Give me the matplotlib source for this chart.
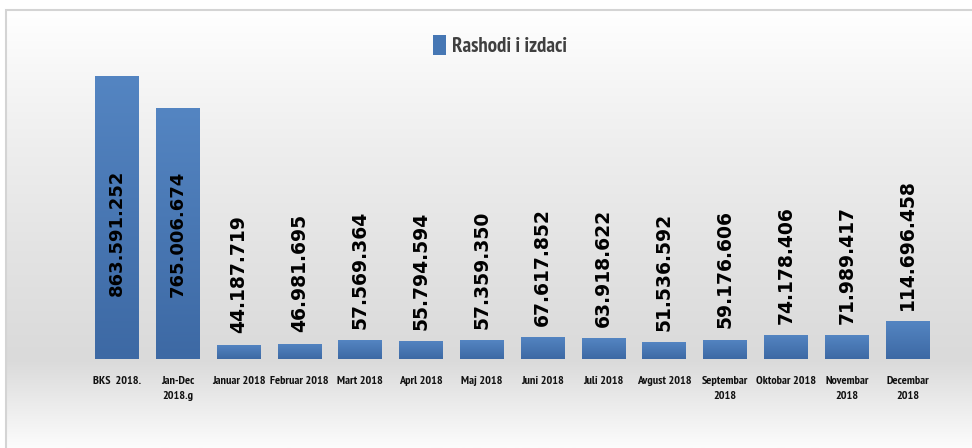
import numpy as np
import matplotlib
matplotlib.use('Agg')
import matplotlib.pyplot as plt
from matplotlib import font_manager
from matplotlib.colors import LinearSegmentedColormap
from matplotlib.patches import Rectangle, Patch

# Data
categories = ['BKS  2018.', 'Jan-Dec\n2018.g', 'Januar 2018', 'Februar 2018', 'Mart 2018',
              'Aprl 2018', 'Maj 2018', 'Juni 2018', 'Juli 2018', 'Avgust 2018',
              'Septembar\n2018', 'Oktobar 2018', 'Novembar\n2018', 'Decembar\n2018']
values = [863591252, 765006674, 44187719, 46981695, 57569364, 55794594, 57359350,
          67617852, 63918622, 51536592, 59176606, 74178406, 71989417, 114696458]
value_labels = ['863.591.252', '765.006.674', '44.187.719', '46.981.695', '57.569.364',
                '55.794.594', '57.359.350', '67.617.852', '63.918.622', '51.536.592',
                '59.176.606', '74.178.406', '71.989.417', '114.696.458']
series_name = 'Rashodi i izdaci'

# look for a narrow bold font
names = {}
for f in font_manager.fontManager.ttflist:
    if 'Narrow' in f.name or 'Condensed' in f.name:
        w = f.weight if isinstance(f.weight, int) else font_manager.weight_dict.get(f.weight, 400)
        names[f.name] = max(names.get(f.name, 0), w)
bold_names = [n for n, w in names.items() if w >= 600]
narrow_first = [n for n in bold_names if 'Narrow' in n] + bold_names
if narrow_first:
    tick_font = {'family': narrow_first[0], 'size': 8.7}
elif names:
    tick_font = {'family': list(names)[0], 'size': 8.7}
else:
    tick_font = {'family': 'Liberation Sans', 'size': 7.2}

fig = plt.figure(figsize = (9.72, 4.48), dpi = 100)

# background panel with vertical gradient
bg = fig.add_axes([6 / 972, 0, 1, (448 - 10) / 448], zorder = -2)
bg_cmap = LinearSegmentedColormap.from_list('bg', [(0, '#ffffff'), (0.25, '#f1f1f1'),
                                                   (0.55, '#e3e3e3'), (0.8, '#dadada'),
                                                   (1, '#fcfcfc')])
bg.imshow(np.linspace(0, 1, 256).reshape(-1, 1), aspect = 'auto', cmap = bg_cmap,
          extent = [0, 1, 0, 1], origin = 'upper')
bg.set_xlim(0, 1)
bg.set_ylim(0, 1)
bg.axis('off')
fig.patches.append(Rectangle((6 / 972, -0.1), 1.2, 1.1 - 10 / 448, transform = fig.transFigure,
                             fill = False, edgecolor = '#d4d4d4', linewidth = 1.5, zorder = -1))

ax = fig.add_axes([0.0891, 89 / 448, 0.876, 295 / 448])
ax.patch.set_alpha(0)

x = np.arange(len(categories))
bars = ax.bar(x, values, width = 0.72, color = '#4677b4', zorder = 2)

# gradient fill for bars
bar_cmap = LinearSegmentedColormap.from_list('bar', ['#5485c2', '#3d69a4'])
grad = np.linspace(0, 1, 256).reshape(-1, 1)
for b in bars:
    bx, by = b.get_x(), b.get_y()
    im = ax.imshow(grad, aspect = 'auto', cmap = bar_cmap, origin = 'upper',
                   extent = [bx, bx + b.get_width(), by, by + b.get_height()], zorder = 3)
    im.set_clip_path(b)

ax.set_xlim(-0.5, len(categories) - 0.5)
ax.set_ylim(0, 900e6)

for i, v in enumerate(values):
    if v > 300e6:
        ax.text(i, min(v / 2, 385e6), value_labels[i], rotation = 90, ha = 'center', va = 'center',
                fontsize = 13, fontweight = 'bold', color = 'black', zorder = 4)
    else:
        ax.text(i, v + 34e6, value_labels[i], rotation = 90, ha = 'center', va = 'bottom',
                fontsize = 13.5, fontweight = 'bold', color = 'black', zorder = 4)

ax.set_xticks(x)
ax.set_xticklabels(categories, fontweight = 'bold', linespacing = 1.65, color = '#111111',
                   fontfamily = tick_font['family'], fontsize = tick_font['size'])
ax.tick_params(axis = 'x', length = 0, pad = 12)
ax.set_yticks([])
for s in ax.spines.values():
    s.set_visible(False)

fig.legend(handles = [Patch(facecolor = '#4677b4', label = series_name)], loc = 'upper center',
           bbox_to_anchor = (500 / 972, 1 - 16 / 448), frameon = False, handlelength = 0.6,
           handleheight = 1.1, handletextpad = 0.3,
           prop = {'family': tick_font['family'], 'size': 15, 'weight': 'bold'})
for t in fig.legends[0].get_texts():
    t.set_color('#404040')

fig.savefig('out.png', dpi = 100)
